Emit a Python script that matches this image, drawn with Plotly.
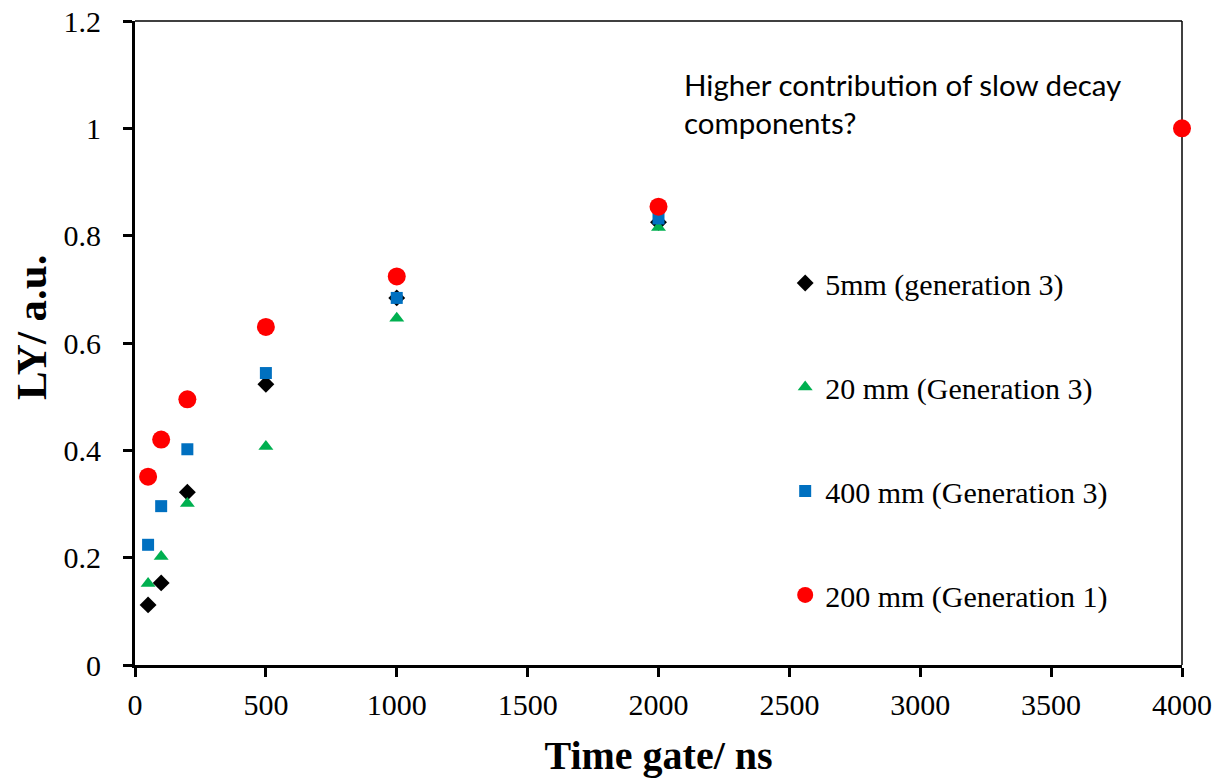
import plotly.graph_objects as go

time_gate = [50, 100, 200, 500, 1000, 2000, 4000]
ly_5mm_gen3 = [0.112, 0.153, 0.322, 0.523, 0.684, 0.825, 1.0]
ly_20mm_gen3 = [0.152, 0.202, 0.301, 0.407, 0.646, 0.815, 1.0]
ly_400mm_gen3 = [0.224, 0.296, 0.402, 0.544, 0.684, 0.832, 1.0]
ly_200mm_gen1 = [0.351, 0.420, 0.495, 0.630, 0.724, 0.854, 1.0]

names = ["5mm (generation 3)", "20 mm (Generation 3)", "400 mm (Generation 3)", "200 mm (Generation 1)"]
series = [ly_5mm_gen3, ly_20mm_gen3, ly_400mm_gen3, ly_200mm_gen1]
symbols = ["diamond", "triangle-up", "square", "circle"]
colors = ["#000000", "#00B050", "#0070C0", "#FF0000"]
sizes = [13, 13, 12, 18]

note_lines = ["Higher contribution of slow decay", "components?"]

serif = "Liberation Serif, Times New Roman, serif"

fig = go.Figure()
for i, (nm, ys, sym, col, sz) in enumerate(zip(names, series, symbols, colors, sizes)):
    fig.add_trace(go.Scatter(
        x=time_gate, y=ys, mode="markers", name=nm, legendgroup=f"g{i}",
        cliponaxis=False,
        marker=dict(symbol=sym, color=col, size=sz, line=dict(width=0)),
    ))

fig.update_layout(
    width=1221, height=778,
    margin=dict(l=135, r=39, t=21, b=113, autoexpand=False),
    plot_bgcolor="white", paper_bgcolor="white",
    font=dict(family=serif, size=30, color="black"),
    showlegend=True,
    legend=dict(x=0.621, y=0.351, xanchor="left", yanchor="middle",
                font=dict(family=serif, size=30, color="black"),
                tracegroupgap=62, itemsizing="trace", bgcolor="rgba(0,0,0,0)"),
    xaxis=dict(range=[0, 4000], dtick=500, showgrid=False, zeroline=False,
               automargin=False,
               showline=True, linewidth=3, linecolor="black",
               ticks="outside", ticklen=9, tickwidth=3, tickcolor="black",
               ticklabelstandoff=2,
               tickfont=dict(family=serif, size=30, color="black"),
               title=dict(text="<b>Time gate/ ns</b>", font=dict(family=serif, size=40), standoff=25)),
    yaxis=dict(range=[0, 1.2], dtick=0.2, showgrid=False, zeroline=False,
               automargin=False,
               showline=True, linewidth=3, linecolor="black",
               ticks="outside", ticklen=9, tickwidth=3, tickcolor="black",
               ticklabelstandoff=16,
               tickfont=dict(family=serif, size=30, color="black")),
)

# y-axis title placed as rotated annotation
fig.add_annotation(
    x=-0.0984, y=0.525, xref="paper", yref="paper", xanchor="center", yanchor="middle",
    text="<b>LY/ a.u.</b>", textangle=-90, showarrow=False,
    font=dict(family=serif, size=43, color="black"),
)

# thin top and right frame lines
fig.add_shape(type="line", xref="paper", yref="paper", x0=0, x1=1, y0=1, y1=1,
              line=dict(color="black", width=1.5), layer="below")
fig.add_shape(type="line", xref="paper", yref="paper", x0=1, x1=1, y0=0, y1=1,
              line=dict(color="black", width=1.5), layer="below")

for txt, yv in zip(note_lines, [1.081, 1.011]):
    fig.add_annotation(
        x=2089, y=yv, xref="x", yref="y", xanchor="left", yanchor="middle",
        text=txt, showarrow=False, align="left",
        font=dict(family="Lato", size=29.5, color="black"),
    )

fig.write_html("out.html")
